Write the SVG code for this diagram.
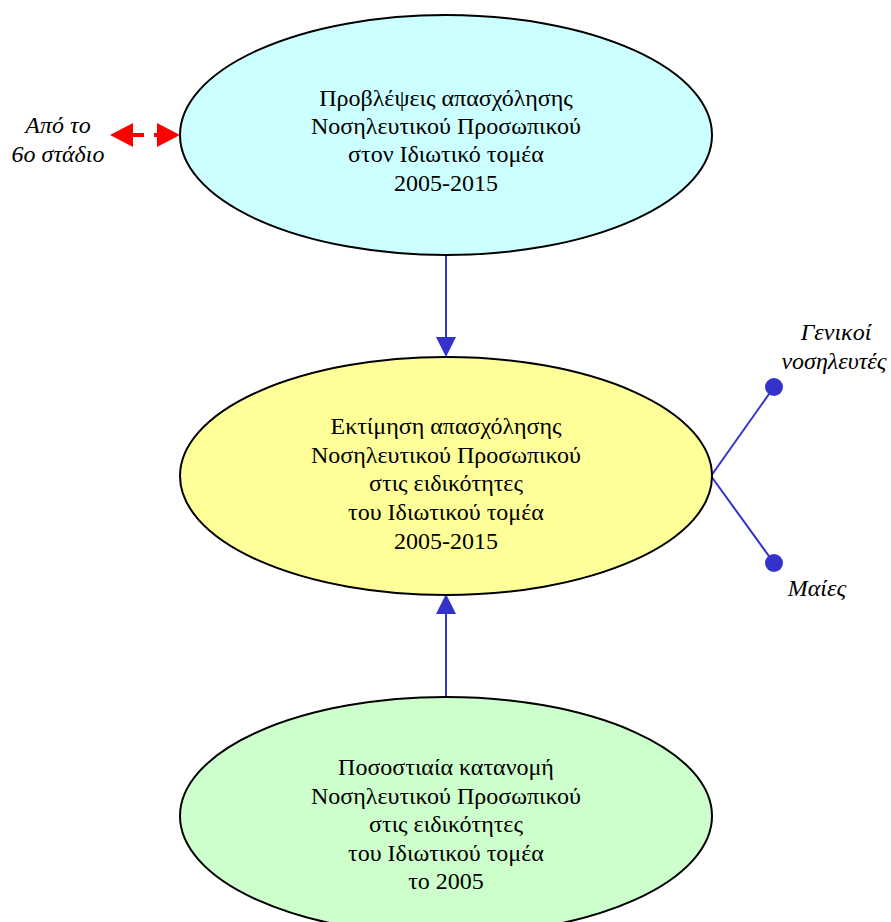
<svg xmlns="http://www.w3.org/2000/svg" width="891" height="922" viewBox="0 0 891 922">
<style>
.node{stroke:#000;stroke-width:2}
.t{font-family:"Liberation Serif","Times New Roman",serif;font-size:24px;fill:#000;text-anchor:middle}
.i{font-style:italic}
.conn{stroke:#3333CC;stroke-width:2;fill:none}
</style>
<rect width="891" height="922" fill="#fff"/>
<g id="connectors">
<line class="conn" x1="446" y1="254" x2="446" y2="340"/>
<polygon points="436,337 456,337 446,357" fill="#3333CC"/>
<line class="conn" x1="446" y1="697" x2="446" y2="612"/>
<polygon points="436,614 456,614 446,594" fill="#3333CC"/>
<line class="conn" x1="711" y1="476" x2="774" y2="387"/>
<line class="conn" x1="711" y1="476" x2="774" y2="563"/>
<circle cx="774" cy="387" r="9" fill="#3333CC"/>
<circle cx="774" cy="563" r="9" fill="#3333CC"/>
<line x1="132" y1="135" x2="158" y2="135" stroke="#FF0000" stroke-width="4" stroke-dasharray="12,10"/>
<polygon points="110,135 133,123 133,147" fill="#FF0000"/>
<polygon points="180,135 157,123 157,147" fill="#FF0000"/>
</g>
<g id="n1">
<ellipse class="node" cx="446" cy="135" rx="266" ry="120" fill="#CCFFFF"/>
<text class="t" x="446" y="106">Προβλέψεις απασχόλησης</text>
<text class="t" x="446" y="134">Νοσηλευτικού Προσωπικού</text>
<text class="t" x="446" y="162">στον Ιδιωτικό τομέα</text>
<text class="t" x="446" y="191">2005-2015</text>
</g>
<g id="n2">
<ellipse class="node" cx="446" cy="476" rx="266" ry="119" fill="#FFFF99"/>
<text class="t" x="446" y="434">Εκτίμηση απασχόλησης</text>
<text class="t" x="446" y="463">Νοσηλευτικού Προσωπικού</text>
<text class="t" x="446" y="491">στις ειδικότητες</text>
<text class="t" x="446" y="520">του Ιδιωτικού τομέα</text>
<text class="t" x="446" y="549">2005-2015</text>
</g>
<g id="n3">
<ellipse class="node" cx="446" cy="816" rx="266" ry="119" fill="#CCFFCC"/>
<text class="t" x="446" y="775">Ποσοστιαία κατανομή</text>
<text class="t" x="446" y="804">Νοσηλευτικού Προσωπικού</text>
<text class="t" x="446" y="832">στις ειδικότητες</text>
<text class="t" x="446" y="861">του Ιδιωτικού τομέα</text>
<text class="t" x="446" y="889">το 2005</text>
</g>
<g id="lbl-source">
<text class="t i" x="58" y="133">Από το</text>
<text class="t i" x="58" y="162">6ο στάδιο</text>
</g>
<g id="lbl-general">
<text class="t i" x="836" y="340">Γενικοί</text>
<text class="t i" x="834" y="369">νοσηλευτές</text>
</g>
<g id="lbl-midwives">
<text class="t i" x="817" y="596">Μαίες</text>
</g>
</svg>
